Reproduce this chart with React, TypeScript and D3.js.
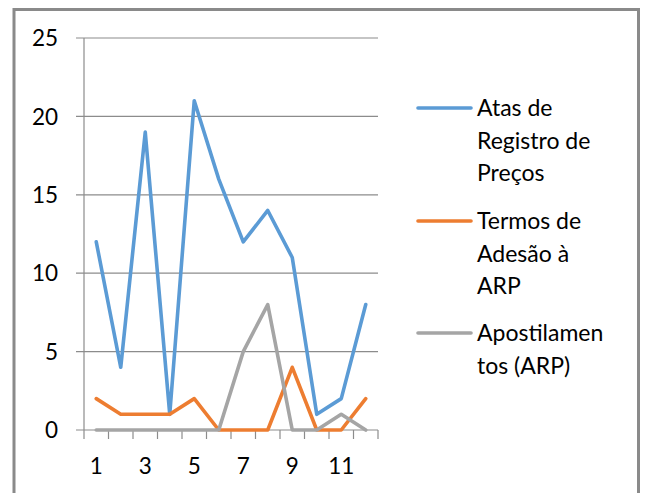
import React from "react";
import * as d3 from "d3";

const categories = [1, 2, 3, 4, 5, 6, 7, 8, 9, 10, 11, 12];
const atas = [12, 4, 19, 1, 21, 16, 12, 14, 11, 1, 2, 8];
const termos = [2, 1, 1, 1, 2, 0, 0, 0, 4, 0, 0, 2];
const apost = [0, 0, 0, 0, 0, 0, 5, 8, 0, 0, 1, 0];
const yTicks = [0, 5, 10, 15, 20, 25];
const xLabels = [1, 3, 5, 7, 9, 11];

const series = [
  { name: ["Atas de", "Registro de", "Preços"], values: atas, color: "#5B9BD5", ly: 108 },
  { name: ["Termos de", "Adesão à", "ARP"], values: termos, color: "#ED7D31", ly: 221 },
  { name: ["Apostilamen", "tos (ARP)"], values: apost, color: "#A5A5A5", ly: 333 },
];

const FONT = "Lato, 'Open Sans', sans-serif";

export default function App() {
  const left = 84, right = 378, top = 38, bottom = 430;
  const x = d3.scaleBand<number>().domain(categories).range([left, right]);
  const y = d3.scaleLinear().domain([0, 25]).range([bottom, top]);
  const line = d3
    .line<number>()
    .x((_, i) => (x(categories[i]) as number) + x.bandwidth() / 2)
    .y((d) => y(d));
  const tickXs = d3.range(categories.length + 1).map((i) => left + i * x.step());
  const lh = 32.5;
  return (
    <svg width={646} height={493} style={{ position: "absolute", left: 0, top: 0, background: "#fff" }}>
      <rect x={0} y={0} width={646} height={493} fill="#fff" />
      <rect x={14} y={9.5} width={624.5} height={495} fill="none" stroke="#8a8a8a" strokeWidth={3} />
      {yTicks.map((t) => (
        <g key={t}>
          <line x1={76} x2={right} y1={y(t)} y2={y(t)} stroke="#8c8c8c" strokeWidth={1.2} />
          <text x={58} y={y(t)} dy="0.36em" textAnchor="end" fontFamily={FONT} fontSize={22.5} fill="#000">
            {t}
          </text>
        </g>
      ))}
      <line x1={left} x2={left} y1={top} y2={bottom} stroke="#8c8c8c" strokeWidth={1.2} />
      {tickXs.map((tx, i) => (
        <line key={i} x1={tx} x2={tx} y1={bottom} y2={439} stroke="#8c8c8c" strokeWidth={1.2} />
      ))}
      {xLabels.map((c) => (
        <text
          key={c}
          x={(x(c) as number) + x.bandwidth() / 2}
          y={466}
          dy="0.36em"
          textAnchor="middle"
          fontFamily={FONT}
          fontSize={22.5}
          fill="#000"
        >
          {c}
        </text>
      ))}
      {series.map((s) => (
        <path
          key={s.color}
          d={line(s.values) as string}
          fill="none"
          stroke={s.color}
          strokeWidth={3.6}
          strokeLinejoin="round"
          strokeLinecap="round"
        />
      ))}
      {series.map((s) => (
        <g key={"l" + s.color}>
          <line x1={418} x2={471} y1={s.ly} y2={s.ly} stroke={s.color} strokeWidth={3.6} strokeLinecap="round" />
          {s.name.map((n, i) => (
            <text key={i} x={477} y={s.ly + i * lh} dy="0.36em" fontFamily={FONT} fontSize={23} fill="#000">
              {n}
            </text>
          ))}
        </g>
      ))}
    </svg>
  );
}
